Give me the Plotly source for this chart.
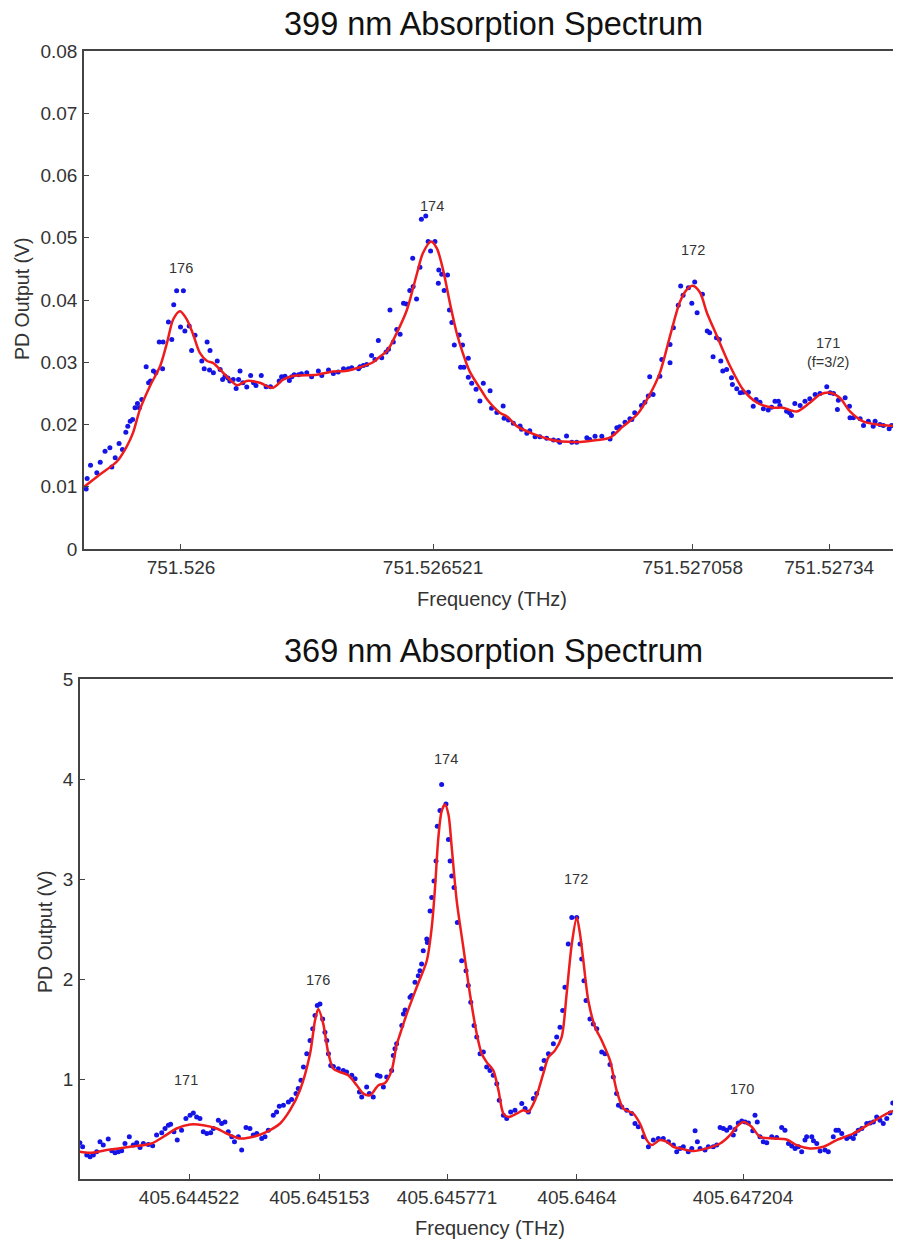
import plotly.graph_objects as go

# ---------------- 399 nm spectrum ----------------
BASE_399_THZ = 751.526            # reference frequency (THz)
# measured points: offset from BASE_399 in MHz, PD output in mV
top_pts_mhz = [-196, -194, -187, -174, -167, -157, -147, -143, -136, -128, -121, -114, -110, -105, -100,
               -95, -90, -86, -81, -72, -67, -63, -57, -52, -45, -38, -37, -26, -19, -15, -9, -1, 5, 8,
               17, 22, 29, 43, 48, 54, 59, 60, 67, 75, 81, 86, 91, 97, 101, 108, 114, 119, 122, 128, 136,
               144, 150, 155, 166, 176, 185, 203, 208, 215, 224, 229, 234, 243, 249, 260, 270, 284, 291,
               305, 315, 325, 336, 346, 353, 367, 370, 377, 384, 394, 401, 408, 415, 424, 429, 432, 439,
               446, 453, 460, 466, 473, 479, 480, 487, 494, 497, 506, 511, 516, 525, 532, 533, 539, 544,
               551, 555, 560, 565, 575, 578, 582, 585, 594, 594, 601, 610, 618, 625, 639, 642, 653, 666,
               668, 677, 687, 701, 704, 715, 721, 732, 742, 756, 770, 780, 783, 797, 808, 818, 839, 845,
               856, 870, 887, 894, 901, 907, 918, 928, 932, 938, 952, 959, 966, 969, 976, 990, 994, 1011,
               1011, 1018, 1028, 1033, 1038, 1049, 1056, 1062, 1067, 1078, 1088, 1093, 1100, 1107, 1113,
               1116, 1120, 1128, 1138, 1140, 1149, 1156, 1162, 1173, 1183, 1189, 1197, 1204, 1214, 1221,
               1228, 1235, 1238, 1252, 1258, 1262, 1269, 1280, 1290, 1300, 1311, 1321, 1335, 1342, 1349,
               1357, 1359, 1373, 1382, 1383, 1390, 1404, 1411, 1421, 1431, 1435, 1445, 1452, 1464, 1469,
               1479]
top_pts_mv = [9.65, 11.31, 13.46, 12.23, 13.94, 15.71, 16.25, 13.19, 14.64, 16.94, 15.98, 18.77, 19.73,
              20.54, 20.80, 22.68, 23.38, 22.68, 24.02, 29.28, 26.70, 26.97, 28.58, 28.31, 33.24, 28.95,
              33.24, 36.46, 33.67, 39.25, 41.50, 35.66, 41.50, 35.01, 35.82, 31.90, 34.32, 30.19, 28.95,
              33.24, 28.74, 31.90, 28.31, 30.19, 28.85, 27.24, 27.77, 27.45, 26.97, 27.24, 25.79, 27.24,
              28.58, 26.70, 26.01, 27.88, 26.70, 26.27, 27.88, 26.06, 26.06, 26.97, 27.67, 27.77, 27.08,
              27.67, 27.99, 27.99, 28.15, 28.31, 27.67, 28.58, 27.88, 28.74, 28.20, 28.42, 28.95, 28.95,
              29.12, 28.95, 29.28, 29.49, 29.65, 31.10, 30.46, 33.51, 30.72, 31.64, 32.08, 38.39, 33.24,
              35.28, 34.48, 39.46, 39.37, 41.51, 46.71, 42.15, 40.17, 45.26, 52.97, 53.51, 49.38, 47.88,
              49.38, 42.69, 44.83, 44.13, 41.51, 44.03, 38.40, 36.37, 32.78, 34.39, 29.19, 32.78, 29.19,
              30.64, 27.58, 26.62, 25.66, 23.78, 26.62, 25.44, 22.60, 21.91, 22.98, 21.00, 20.73, 20.19,
              19.76, 19.23, 18.59, 19.01, 18.05, 18.05, 17.78, 17.51, 17.41, 17.14, 18.16, 17.14, 17.14,
              17.86, 17.59, 18.12, 18.12, 17.69, 18.55, 19.46, 19.62, 20.38, 20.91, 20.80, 21.88, 23.06,
              23.59, 24.56, 27.67, 24.83, 27.77, 30.46, 32.87, 29.92, 35.55, 39.14, 42.25, 40.75, 41.98,
              39.46, 42.90, 37.96, 40.91, 35.01, 34.75, 30.88, 33.94, 33.67, 30.19, 28.58, 28.85, 27.51,
              26.43, 25.74, 25.09, 25.20, 25.20, 22.95, 24.02, 23.59, 22.52, 22.31, 22.79, 23.75, 23.75,
              23.06, 22.14, 21.88, 21.45, 23.38, 23.06, 23.75, 24.13, 24.83, 24.99, 26.06, 25.09, 24.99,
              22.41, 23.91, 24.29, 22.95, 21.07, 21.07, 20.91, 19.84, 20.54, 19.73, 20.54, 20.00, 19.84,
              19.30, 19.84, 19.73]
# fitted curve
top_fit_mhz = [-200, -167, -132, -112, -99, -85, -64, -43, -29, -16, -2, 12, 25, 39, 54, 66, 81, 101, 116,
               136, 163, 190, 211, 231, 281, 314, 340, 370, 397, 411, 426, 446, 467, 488, 500, 517, 529,
               542, 556, 570, 583, 597, 624, 633, 659, 674, 695, 728, 763, 783, 810, 825, 860, 887, 914,
               943, 969, 990, 1011, 1031, 1046, 1058, 1073, 1087, 1108, 1135, 1162, 1191, 1224, 1244,
               1273, 1300, 1321, 1342, 1362, 1383, 1410, 1439, 1488]
top_fit_mv = [10.0, 12.0, 14.1, 16.5, 18.7, 22.4, 26.2, 29.4, 33.1, 36.9, 38.2, 36.9, 34.5, 31.5, 30.2,
              29.9, 28.8, 27.2, 26.3, 27.0, 26.7, 25.9, 27.2, 27.8, 28.0, 28.5, 28.6, 29.2, 30.0, 30.9,
              31.8, 34.7, 38.4, 44.3, 47.5, 49.4, 48.3, 44.8, 39.5, 34.7, 31.4, 28.5, 25.1, 24.0, 21.9,
              21.3, 19.7, 18.5, 17.6, 17.3, 17.2, 17.2, 17.5, 17.9, 19.7, 21.6, 24.8, 28.3, 34.2, 39.6,
              41.7, 42.3, 41.2, 38.0, 34.2, 29.4, 25.6, 23.5, 22.7, 22.7, 22.1, 23.5, 24.8, 25.1, 24.3,
              22.1, 20.5, 20.0, 19.7]
top_tick_mhz = [0, 521, 1058, 1340]
top_tick_text = ["751.526", "751.526521", "751.527058", "751.52734"]
top_y_ticks = [0, 0.01, 0.02, 0.03, 0.04, 0.05, 0.06, 0.07, 0.08]
top_y_text = ["0", "0.01", "0.02", "0.03", "0.04", "0.05", "0.06", "0.07", "0.08"]
top_labels = ["176", "174", "172", "171<br>(f=3/2)"]
top_label_mhz = [0, 519, 1058, 1337]
top_label_mv = [45.1, 55.1, 48.0, 31.6]
top_range_mhz = [-200.5, 1488.5]
top_range_v = [0, 0.08]

# ---------------- 369 nm spectrum ----------------
BASE_369_THZ = 405.644522
bot_pts_mhz = [-528, -515, -495, -479, -463, -447, -431, -415, -391, -374, -358, -342, -326, -310, -289,
               -270, -253, -237, -221, -197, -176, -157, -132, -116, -100, -89, -73, -57, -36, -15, 5, 21,
               37, 53, 69, 86, 105, 118, 142, 158, 174, 190, 207, 220, 239, 255, 276, 295, 311, 328, 352,
               368, 384, 408, 424, 437, 457, 481, 497, 518, 529, 542, 554, 570, 586, 599, 610, 621, 634,
               647, 658, 667, 675, 686, 699, 723, 747, 763, 788, 804, 825, 836, 860, 873, 892, 912, 925,
               941, 957, 981, 989, 997, 1005, 1030, 1038, 1046, 1070, 1078, 1094, 1110, 1118, 1126, 1134,
               1151, 1154, 1167, 1175, 1186, 1196, 1202, 1215, 1223, 1244, 1256, 1264, 1272, 1283, 1299,
               1320, 1341, 1352, 1364, 1380, 1393, 1409, 1425, 1441, 1457, 1473, 1490, 1502, 1522, 1538,
               1557, 1578, 1611, 1627, 1643, 1667, 1683, 1707, 1719, 1740, 1764, 1780, 1796, 1809, 1820,
               1836, 1853, 1877, 1893, 1901, 1912, 1922, 1941, 1957, 1974, 1998, 2014, 2038, 2054, 2070,
               2079, 2095, 2119, 2143, 2159, 2175, 2200, 2224, 2248, 2272, 2296, 2321, 2345, 2361, 2377,
               2393, 2417, 2434, 2450, 2461, 2474, 2498, 2514, 2538, 2555, 2571, 2587, 2603, 2619, 2635,
               2643, 2659, 2676, 2692, 2708, 2729, 2740, 2751, 2764, 2780, 2797, 2821, 2845, 2869, 2885,
               2902, 2918, 2934, 2950, 2966, 2982, 2990, 3015, 3023, 3039, 3055, 3079, 3095, 3119, 3132,
               3144, 3160, 3184, 3200, 3216, 3224, 3240, 3257, 3281, 3297, 3313, 3329, 3345, 3361, 3378,
               3394, 3407, 3423, 3434]
bot_pts_v = [0.362, 0.322, 0.239, 0.223, 0.239, 0.272, 0.372, 0.339, 0.399, 0.282, 0.262, 0.272, 0.282,
             0.355, 0.422, 0.339, 0.362, 0.316, 0.355, 0.346, 0.332, 0.439, 0.462, 0.505, 0.538, 0.548,
             0.472, 0.389, 0.488, 0.605, 0.638, 0.661, 0.621, 0.605, 0.472, 0.455, 0.462, 0.505, 0.588,
             0.555, 0.571, 0.472, 0.422, 0.372, 0.422, 0.289, 0.515, 0.505, 0.439, 0.455, 0.405, 0.422,
             0.488, 0.638, 0.671, 0.728, 0.738, 0.771, 0.794, 0.854, 0.904, 0.987, 1.120, 1.252, 1.385,
             1.502, 1.635, 1.734, 1.751, 1.601, 1.468, 1.385, 1.252, 1.136, 1.126, 1.103, 1.086, 1.070,
             1.037, 1.003, 0.870, 0.821, 0.920, 0.854, 0.821, 1.037, 1.027, 0.920, 1.020, 1.086, 1.236,
             1.302, 1.352, 1.535, 1.651, 1.691, 1.817, 1.834, 1.967, 2.033, 2.083, 2.150, 2.282, 2.399,
             2.365, 2.681, 2.814, 2.980, 3.179, 3.528, 3.684, 3.944, 3.751, 3.395, 3.179, 3.030, 2.914,
             2.565, 2.183, 2.083, 1.934, 1.767, 1.535, 1.419, 1.252, 1.269, 1.120, 1.086, 1.037, 0.953,
             0.787, 0.638, 0.605, 0.671, 0.688, 0.754, 0.704, 0.671, 0.804, 0.854, 1.103, 1.186, 1.252,
             1.352, 1.419, 1.518, 1.684, 1.917, 2.349, 2.615, 2.615, 2.349, 2.199, 1.983, 1.784, 1.601,
             1.551, 1.502, 1.269, 1.252, 1.146, 1.020, 0.854, 0.738, 0.721, 0.688, 0.654, 0.555, 0.522,
             0.422, 0.322, 0.389, 0.405, 0.405, 0.372, 0.339, 0.272, 0.306, 0.322, 0.272, 0.306, 0.482,
             0.372, 0.306, 0.289, 0.322, 0.322, 0.339, 0.515, 0.505, 0.488, 0.515, 0.439, 0.495, 0.561,
             0.581, 0.571, 0.561, 0.482, 0.638, 0.571, 0.422, 0.372, 0.362, 0.422, 0.415, 0.515, 0.488,
             0.355, 0.329, 0.306, 0.322, 0.272, 0.389, 0.422, 0.422, 0.382, 0.355, 0.279, 0.289, 0.272,
             0.422, 0.488, 0.488, 0.455, 0.405, 0.422, 0.405, 0.449, 0.488, 0.505, 0.555, 0.561, 0.571,
             0.621, 0.588, 0.555, 0.605, 0.661, 0.761, 0.748, 0.661]
bot_fit_mhz = [-528, -479, -399, -286, -181, -124, -60, 5, 69, 134, 182, 247, 311, 376, 441, 489, 537, 586,
               610, 626, 650, 675, 699, 731, 771, 812, 844, 876, 917, 949, 981, 1005, 1022, 1054, 1102,
               1151, 1175, 1191, 1207, 1223, 1239, 1256, 1272, 1296, 1328, 1360, 1393, 1417, 1441, 1473,
               1498, 1522, 1546, 1586, 1619, 1643, 1675, 1715, 1740, 1772, 1804, 1828, 1853, 1877, 1893,
               1909, 1933, 1966, 1998, 2038, 2070, 2103, 2151, 2183, 2216, 2240, 2280, 2313, 2345, 2377,
               2442, 2506, 2571, 2619, 2651, 2684, 2724, 2764, 2829, 2893, 2942, 3006, 3071, 3135, 3216,
               3297, 3378, 3426, 3447]
bot_fit_v = [0.272, 0.262, 0.289, 0.322, 0.355, 0.422, 0.505, 0.545, 0.538, 0.505, 0.455, 0.405, 0.422,
             0.472, 0.555, 0.688, 0.887, 1.252, 1.585, 1.701, 1.551, 1.252, 1.103, 1.070, 1.037, 0.937,
             0.854, 0.837, 0.937, 0.960, 1.086, 1.340, 1.450, 1.651, 1.917, 2.183, 2.515, 2.914, 3.412,
             3.678, 3.744, 3.645, 3.312, 2.781, 2.316, 1.850, 1.452, 1.252, 1.169, 1.086, 0.887, 0.654,
             0.621, 0.654, 0.688, 0.671, 0.787, 1.053, 1.219, 1.286, 1.419, 1.850, 2.349, 2.615, 2.449,
             2.183, 1.784, 1.518, 1.385, 1.186, 0.887, 0.704, 0.654, 0.555, 0.389, 0.339, 0.389, 0.372,
             0.322, 0.306, 0.279, 0.306, 0.355, 0.439, 0.522, 0.571, 0.522, 0.422, 0.405, 0.395, 0.339,
             0.306, 0.322, 0.389, 0.455, 0.555, 0.654, 0.688, 0.671]
bot_tick_mhz = [0, 631, 1249, 1878, 2682]
bot_tick_text = ["405.644522", "405.645153", "405.645771", "405.6464", "405.647204"]
bot_y_ticks = [1, 2, 3, 4, 5]
bot_labels = ["171", "176", "174", "172", "170"]
bot_label_mhz = [-15, 625, 1244, 1874, 2677]
bot_label_v = [0.99, 1.99, 4.20, 3.00, 0.90]
bot_range_mhz = [-527.7, 3446.8]
bot_range_v = [0, 5]


def to_thz(base, offsets):
    return [base + m * 1e-6 for m in offsets]


FONT = "Liberation Sans, Arial, sans-serif"
TXT = "#333333"
AXC = "#444444"
DOT = "#1414e6"
FIT = "#ee1c1c"

# the page body adds an 8 px margin at the top-left; size the figure to end at the window's edges
OFF = 8
W, H = 901 - OFF, 1241 - OFF


def px(sx):
    return (sx - OFF) / W


def py(sy):
    return (H - (sy - OFF)) / H


fig = go.Figure()
fig.add_trace(go.Scatter(x=to_thz(BASE_399_THZ, top_pts_mhz), y=[v / 1000 for v in top_pts_mv],
                         mode="markers", marker=dict(color=DOT, size=5), xaxis="x", yaxis="y"))
fig.add_trace(go.Scatter(x=to_thz(BASE_399_THZ, top_fit_mhz), y=[v / 1000 for v in top_fit_mv],
                         mode="lines", line=dict(color=FIT, width=2.5, shape="spline", smoothing=0.8),
                         xaxis="x", yaxis="y"))
fig.add_trace(go.Scatter(x=to_thz(BASE_369_THZ, bot_pts_mhz), y=bot_pts_v,
                         mode="markers", marker=dict(color=DOT, size=5), xaxis="x2", yaxis="y2"))
fig.add_trace(go.Scatter(x=to_thz(BASE_369_THZ, bot_fit_mhz), y=bot_fit_v,
                         mode="lines", line=dict(color=FIT, width=2.5, shape="spline", smoothing=0.8),
                         xaxis="x2", yaxis="y2"))

common = dict(showgrid=False, zeroline=False, showline=True, linecolor=AXC, linewidth=1.5,
              ticks="inside", ticklen=5, tickcolor=AXC, tickwidth=1.2, automargin=False,
              tickfont=dict(family=FONT, size=19, color=TXT))

fig.update_layout(
    template="none",
    width=W, height=H, margin=dict(l=0, r=0, t=0, b=0, pad=0, autoexpand=False),
    paper_bgcolor="white", plot_bgcolor="white", showlegend=False,
    xaxis=dict(domain=[px(84), 1], anchor="y", mirror=True,
               range=to_thz(BASE_399_THZ, top_range_mhz),
               tickvals=to_thz(BASE_399_THZ, top_tick_mhz), ticktext=top_tick_text,
               ticklabelstandoff=0, **common),
    yaxis=dict(domain=[py(549), py(51)], anchor="x", range=top_range_v,
               tickvals=top_y_ticks, ticktext=top_y_text, ticklabelstandoff=1, **common),
    xaxis2=dict(domain=[px(80), 1], anchor="y2", mirror=True,
                range=to_thz(BASE_369_THZ, bot_range_mhz),
                tickvals=to_thz(BASE_369_THZ, bot_tick_mhz), ticktext=bot_tick_text,
                ticklabelstandoff=0, **common),
    yaxis2=dict(domain=[py(1179), py(679)], anchor="x2", range=bot_range_v,
                tickvals=bot_y_ticks, ticklabelstandoff=1, **common),
)

ann = []
# peak labels
for t, m, v in zip(top_labels, top_label_mhz, top_label_mv):
    ann.append(dict(x=BASE_399_THZ + m * 1e-6, y=v / 1000, xref="x", yref="y", text=t, showarrow=False,
                    xanchor="center", yanchor="middle", font=dict(family=FONT, size=14.5, color=TXT)))
for t, m, v in zip(bot_labels, bot_label_mhz, bot_label_v):
    ann.append(dict(x=BASE_369_THZ + m * 1e-6, y=v, xref="x2", yref="y2", text=t, showarrow=False,
                    xanchor="center", yanchor="middle", font=dict(family=FONT, size=14.5, color=TXT)))


def paper_text(sx, sy, text, size, color=TXT, angle=0):
    return dict(x=px(sx), y=py(sy), xref="paper", yref="paper", text=text, showarrow=False,
                xanchor="center", yanchor="middle", textangle=angle,
                font=dict(family=FONT, size=size, color=color))


ann.append(paper_text(493, 24, "399 nm Absorption Spectrum", 32.5, "#111111"))
ann.append(paper_text(493, 651, "369 nm Absorption Spectrum", 32.5, "#111111"))
ann.append(paper_text(492.5, 599, "Frequency (THz)", 20))
ann.append(paper_text(490.5, 1228, "Frequency (THz)", 20))
ann.append(paper_text(22, 299, "PD Output (V)", 19.5, angle=-90))
ann.append(paper_text(45, 932, "PD Output (V)", 19.5, angle=-90))
fig.update_layout(annotations=ann)

fig.write_html("out.html")
